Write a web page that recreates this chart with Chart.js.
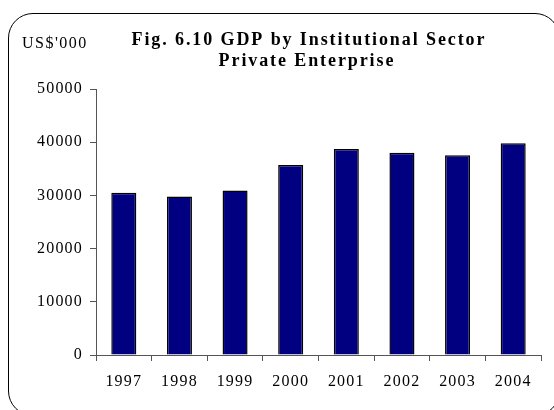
<!DOCTYPE html>
<html>
<head>
<meta charset="utf-8">
<script src="https://cdn.jsdelivr.net/npm/chart.js@4/dist/chart.umd.min.js"></script>
<style>
  html, body { margin: 0; padding: 0; background: #fff; overflow: hidden; }
  #wrap { position: relative; width: 554px; height: 410px; overflow: hidden; }
  #frame {
    position: absolute; left: 8px; top: 13px; width: 552px; height: 403px;
    border: 1.5px solid #000; border-radius: 25px; box-sizing: border-box;
    pointer-events: none;
  }
  canvas { position: absolute; left: 0; top: 0; }
</style>
</head>
<body>
<div id="wrap">
  <canvas id="c" width="554" height="410"></canvas>
  <div id="frame"></div>
</div>
<script>
const years = ['1997', '1998', '1999', '2000', '2001', '2002', '2003', '2004'];
const gdpPrivate = [30500, 29800, 30900, 35700, 38700, 38000, 37550, 39800];
const yTicks = [0, 10000, 20000, 30000, 40000, 50000];
const titleLines = ['Fig. 6.10 GDP by Institutional Sector', 'Private Enterprise'];
const unitLabel = "US$'000";

const serif = '"Liberation Serif", "Times New Roman", serif';
const tickSpacing = 1.2;

// Slightly widened letter spacing for the axis labels
const spacingPlugin = {
  id: 'spacing',
  beforeUpdate(chart) { chart.ctx.letterSpacing = tickSpacing + 'px'; },
  beforeDraw(chart) { chart.ctx.letterSpacing = tickSpacing + 'px'; }
};

// Heading and unit caption drawn at fixed spots above the plot
const headingPlugin = {
  id: 'heading',
  afterDraw(chart) {
    const ctx = chart.ctx;
    ctx.save();
    ctx.fillStyle = '#000';
    ctx.textBaseline = 'alphabetic';
    ctx.textAlign = 'left';
    ctx.font = 'bold 18px ' + serif;
    ctx.letterSpacing = '1.9px';
    const centres = [308, 306];
    const bases = [45, 66];
    titleLines.forEach((t, i) => {
      const w = ctx.measureText(t).width - 1.9;
      ctx.fillText(t, centres[i] - w / 2, bases[i]);
    });
    ctx.font = '16px ' + serif;
    ctx.letterSpacing = '1.5px';
    ctx.fillText(unitLabel, 22, 48);
    ctx.restore();
  }
};

new Chart(document.getElementById('c'), {
  type: 'bar',
  data: {
    labels: years,
    datasets: [{
      data: gdpPrivate,
      backgroundColor: '#000080',
      borderColor: '#000',
      borderWidth: 1.5,
      categoryPercentage: 0.9,
      barPercentage: 0.5
    }]
  },
  options: {
    responsive: false,
    animation: false,
    devicePixelRatio: 1,
    layout: { padding: { left: 0, right: 13, top: 89, bottom: 0 } },
    plugins: { legend: { display: false }, tooltip: { enabled: false }, title: { display: false } },
    scales: {
      x: {
        afterFit(s) { s.height = 55; },
        grid: { drawOnChartArea: false, drawTicks: true, tickLength: 6, color: '#555', offset: true },
        border: { color: '#555', width: 1 },
        ticks: { color: '#000', font: { family: serif, size: 16 }, padding: 11, maxRotation: 0 }
      },
      y: {
        min: 0, max: 50000,
        afterFit(s) { s.width = 96; },
        afterBuildTicks(s) { s.ticks = yTicks.map(v => ({ value: v })); },
        grid: { drawOnChartArea: false, drawTicks: true, tickLength: 6, color: '#555' },
        border: { color: '#555', width: 1 },
        ticks: {
          color: '#000', font: { family: serif, size: 16 }, padding: 7,
          callback: v => String(v)
        }
      }
    }
  },
  plugins: [spacingPlugin, headingPlugin]
});
</script>
</body>
</html>
